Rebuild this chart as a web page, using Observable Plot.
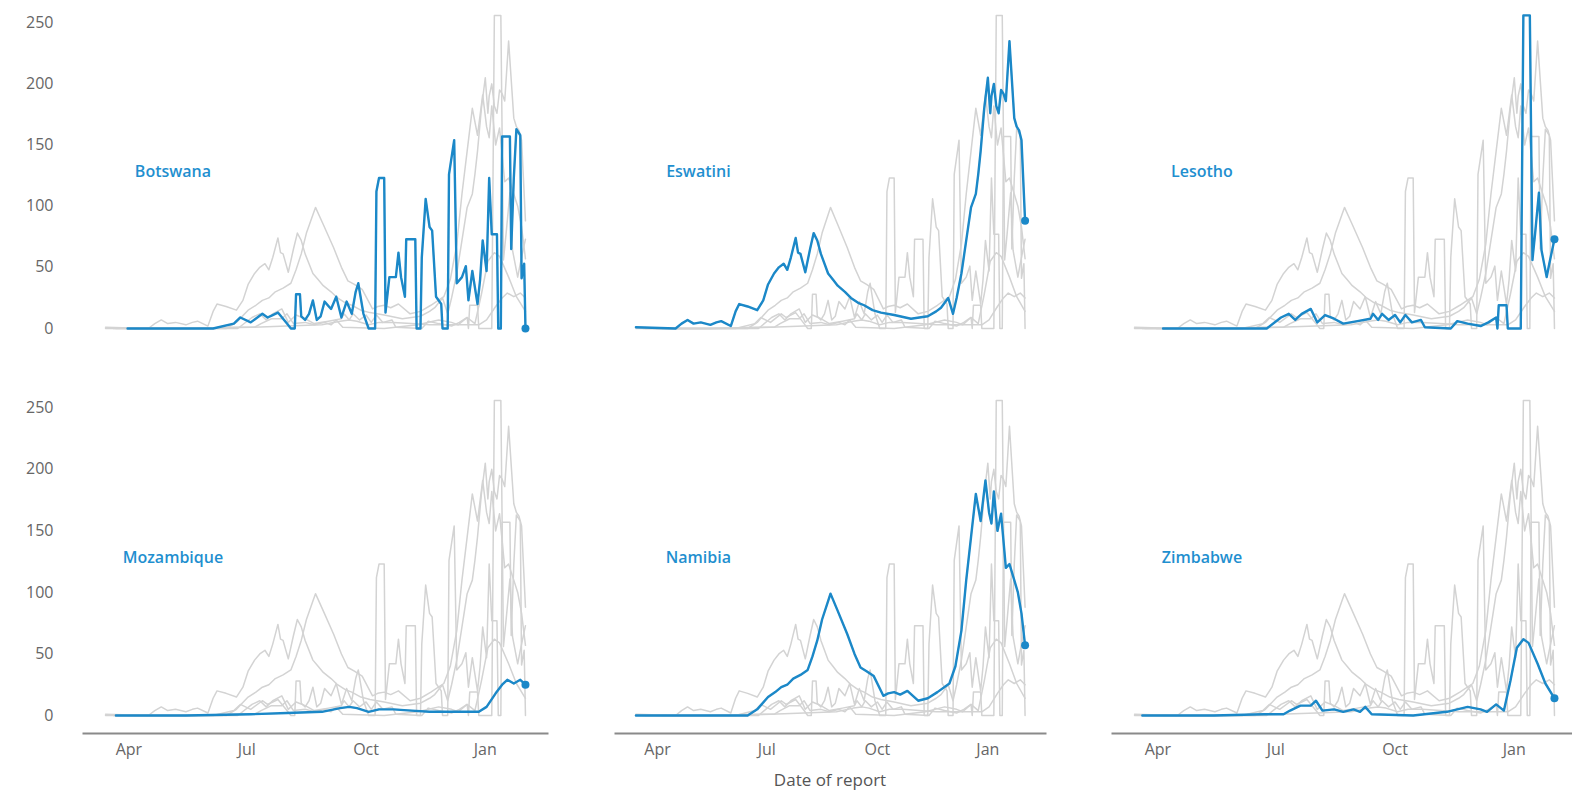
<!DOCTYPE html>
<html><head><meta charset="utf-8">
<script src="https://cdn.jsdelivr.net/npm/d3@7"></script>
<script src="https://cdn.jsdelivr.net/npm/@observablehq/plot@0.6"></script>
<style>
html,body{margin:0;padding:0;background:#fff;overflow:hidden;}
#chart{position:relative;width:1572px;height:792px;overflow:hidden;font-family:"Open Sans","Segoe UI",sans-serif;}
.panel{position:absolute;}
#xtitle{position:absolute;left:730px;width:200px;top:768px;text-align:center;font-size:17px;color:#555;font-family:"Open Sans","Segoe UI",sans-serif;}
</style></head><body>
<div id="chart"><div id="xtitle"></div></div>
<script>
const countries = ["Botswana","Eswatini","Lesotho","Mozambique","Namibia","Zimbabwe"];
const botswana = [["2020-03-31",0],["2020-06-05",0],["2020-06-21",4],["2020-06-26",9],["2020-07-04",5],["2020-07-13",12],["2020-07-17",9],["2020-07-21",11],["2020-07-25",13],["2020-08-01",4],["2020-08-04",0],["2020-08-07",0],["2020-08-08",28],["2020-08-11",28],["2020-08-12",10],["2020-08-15",7],["2020-08-18",12],["2020-08-21",23],["2020-08-24",7],["2020-08-27",10],["2020-08-30",22],["2020-09-04",16],["2020-09-08",26],["2020-09-12",9],["2020-09-16",22],["2020-09-20",12],["2020-09-23",30],["2020-09-25",37],["2020-09-29",12],["2020-10-03",0],["2020-10-08",0],["2020-10-09",112],["2020-10-11",123],["2020-10-15",123],["2020-10-16",13],["2020-10-19",42],["2020-10-24",42],["2020-10-26",62],["2020-10-28",42],["2020-10-31",26],["2020-11-01",73],["2020-11-08",73],["2020-11-09",0],["2020-11-12",0],["2020-11-13",58],["2020-11-16",106],["2020-11-19",83],["2020-11-21",80],["2020-11-24",26],["2020-11-28",20],["2020-11-29",0],["2020-12-03",0],["2020-12-04",126],["2020-12-08",154],["2020-12-10",37],["2020-12-14",42],["2020-12-17",51],["2020-12-19",23],["2020-12-22",47],["2020-12-26",20],["2020-12-28",40],["2020-12-30",72],["2021-01-02",47],["2021-01-04",123],["2021-01-06",77],["2021-01-10",77],["2021-01-11",0],["2021-01-13",0],["2021-01-14",157],["2021-01-20",157],["2021-01-21",65],["2021-01-23",123],["2021-01-25",163],["2021-01-28",158],["2021-01-29",41],["2021-01-31",53],["2021-02-01",0]];
const eswatini = [["2020-03-14",1],["2020-04-16",0],["2020-04-21",4],["2020-04-26",7],["2020-05-01",4],["2020-05-07",5],["2020-05-15",3],["2020-05-20",5],["2020-05-24",6],["2020-06-01",2],["2020-06-05",14],["2020-06-08",20],["2020-06-15",18],["2020-06-23",15],["2020-06-28",23],["2020-07-02",36],["2020-07-07",45],["2020-07-11",50],["2020-07-15",53],["2020-07-18",48],["2020-07-21",58],["2020-07-25",74],["2020-07-27",62],["2020-07-29",61],["2020-08-02",46],["2020-08-06",65],["2020-08-09",78],["2020-08-12",72],["2020-08-15",61],["2020-08-21",45],["2020-08-25",40],["2020-08-29",35],["2020-09-04",30],["2020-09-09",25],["2020-09-15",21],["2020-09-20",19],["2020-09-27",15],["2020-10-04",13],["2020-10-15",11],["2020-10-29",8],["2020-11-12",10],["2020-11-19",14],["2020-11-23",17],["2020-11-29",25],["2020-12-03",12],["2020-12-06",25],["2020-12-10",45],["2020-12-14",72],["2020-12-18",99],["2020-12-22",110],["2020-12-24",126],["2020-12-26",145],["2020-12-29",180],["2021-01-01",205],["2021-01-03",176],["2021-01-04",190],["2021-01-06",200],["2021-01-08",182],["2021-01-10",176],["2021-01-12",195],["2021-01-14",192],["2021-01-16",186],["2021-01-19",235],["2021-01-23",172],["2021-01-25",165],["2021-01-27",162],["2021-01-29",154],["2021-02-01",88]];
const lesotho = [["2020-04-05",0],["2020-06-24",0],["2020-07-05",9],["2020-07-11",12],["2020-07-16",7],["2020-07-21",12],["2020-07-28",16],["2020-08-02",5],["2020-08-08",11],["2020-08-15",8],["2020-08-22",4],["2020-09-02",6],["2020-09-12",8],["2020-09-14",12],["2020-09-18",7],["2020-09-21",12],["2020-09-26",7],["2020-10-01",11],["2020-10-05",5],["2020-10-09",11],["2020-10-14",5],["2020-10-21",7],["2020-10-24",1],["2020-11-13",0],["2020-11-18",6],["2020-11-26",4],["2020-12-06",2],["2020-12-12",5],["2020-12-18",9],["2020-12-19",0],["2020-12-20",19],["2020-12-26",19],["2020-12-27",0],["2021-01-06",0],["2021-01-08",256],["2021-01-13",256],["2021-01-15",56],["2021-01-17",77],["2021-01-20",111],["2021-01-22",64],["2021-01-26",42],["2021-01-28",53],["2021-02-01",73]];
const mozambique = [["2020-03-22",0],["2020-05-15",0],["2020-07-04",1],["2020-08-01",2],["2020-08-28",3],["2020-09-11",6],["2020-09-18",7],["2020-09-24",6],["2020-10-03",3],["2020-10-11",5],["2020-10-22",5],["2020-11-05",4],["2020-11-19",3],["2020-12-02",3],["2020-12-16",3],["2020-12-27",3],["2021-01-02",7],["2021-01-09",18],["2021-01-14",25],["2021-01-18",29],["2021-01-23",26],["2021-01-28",29],["2021-02-01",25]];
const namibia = [["2020-03-14",0],["2020-06-15",0],["2020-06-23",5],["2020-07-02",15],["2020-07-08",19],["2020-07-13",23],["2020-07-18",25],["2020-07-23",30],["2020-07-29",33],["2020-08-04",37],["2020-08-08",48],["2020-08-12",61],["2020-08-16",78],["2020-08-21",93],["2020-08-23",99],["2020-08-29",85],["2020-09-06",66],["2020-09-12",50],["2020-09-17",39],["2020-09-22",36],["2020-09-28",32],["2020-10-06",16],["2020-10-10",18],["2020-10-15",19],["2020-10-20",17],["2020-10-26",20],["2020-11-04",12],["2020-11-12",14],["2020-11-20",19],["2020-11-30",26],["2020-12-05",40],["2020-12-10",69],["2020-12-14",110],["2020-12-18",145],["2020-12-22",180],["2020-12-26",158],["2020-12-30",191],["2021-01-02",165],["2021-01-04",156],["2021-01-06",182],["2021-01-09",150],["2021-01-12",164],["2021-01-16",120],["2021-01-19",123],["2021-01-23",110],["2021-01-26",100],["2021-01-29",83],["2021-02-01",57]];
const zimbabwe = [["2020-03-20",0],["2020-05-14",0],["2020-06-22",1],["2020-07-07",1],["2020-07-12",4],["2020-07-20",8],["2020-07-28",8],["2020-08-01",12],["2020-08-06",4],["2020-08-15",5],["2020-08-22",3],["2020-08-30",5],["2020-09-04",3],["2020-09-08",7],["2020-09-13",1],["2020-10-15",0],["2020-11-10",3],["2020-11-26",7],["2020-12-06",5],["2020-12-11",3],["2020-12-18",9],["2020-12-24",4],["2020-12-29",28],["2021-01-03",55],["2021-01-08",62],["2021-01-12",59],["2021-01-19",42],["2021-01-25",26],["2021-02-01",14]];
const yTicks = [0,50,100,150,200,250];
const xTicks = ["2020-04-01","2020-07-01","2020-10-01","2021-01-01"];
const xDomain = ["2020-02-26","2021-02-18"];
const yDomain = [0,260];
const xTitle = "Date of report";

const BLUE = "#1b88c8", LABEL = "#1f8fcf", GRAY = "#d3d3d3", AXIS = "#8a8a8a", TXT = "#666";
const series = {Botswana: botswana, Eswatini: eswatini, Lesotho: lesotho, Mozambique: mozambique, Namibia: namibia, Zimbabwe: zimbabwe};
const rows = countries.flatMap(c => series[c].map(([d, v]) => ({country: c, date: new Date(d), value: v})));
const labelDate = new Date("2020-05-05"), labelValue = 128;

const colL = [
  {left: 0, marginLeft: 83, plotW: 464, marginRight: 4},
  {left: 560, marginLeft: 55, plotW: 430, marginRight: 4},
  {left: 1080, marginLeft: 32, plotW: 464, marginRight: 0}
];
const rowL = [
  {top: 0, height: 360, marginTop: 10, marginBottom: 32, insetBottom: 0},
  {top: 380, height: 412, marginTop: 15, marginBottom: 59, insetBottom: 18}
];

const chart = document.getElementById("chart");
countries.forEach((c, i) => {
  const col = i % 3, row = Math.floor(i / 3);
  const C = colL[col], R = rowL[row];
  const mine = rows.filter(r => r.country === c);
  const last = mine[mine.length - 1];
  const marks = [
    Plot.line(rows, {x: "date", y: "value", z: "country", stroke: GRAY, strokeWidth: 1.5}),
    Plot.line(mine, {x: "date", y: "value", stroke: BLUE, strokeWidth: 2.4}),
    Plot.dot([last], {x: "date", y: "value", r: 4, fill: BLUE}),
    Plot.text([c], {x: () => labelDate, y: () => labelValue, text: d => d, fill: LABEL, fontSize: 16, fontWeight: 600, textAnchor: "middle"})
  ];
  if (col === 0) marks.push(Plot.axisY({ticks: yTicks, tickSize: 0, tickPadding: 30, fontSize: 16, fill: TXT, label: null}));
  if (row === 1) {
    marks.push(Plot.axisX({ticks: xTicks.map(d => new Date(d)), tickFormat: d3.utcFormat("%b"), tickSize: 0, tickPadding: 10, fontSize: 16, fill: TXT, label: null}));
    marks.push(Plot.frame({anchor: "bottom", stroke: AXIS, strokeWidth: 2}));
  }
  const svg = Plot.plot({
    width: C.marginLeft + C.plotW + C.marginRight,
    height: R.height,
    marginLeft: C.marginLeft, marginRight: C.marginRight,
    marginTop: R.marginTop, marginBottom: R.marginBottom,
    x: {type: "utc", domain: xDomain.map(d => new Date(d)), label: null, ...(row === 1 ? {} : {axis: null})},
    y: {domain: yDomain, insetBottom: R.insetBottom, label: null, ...(col === 0 ? {} : {axis: null})},
    style: {fontFamily: '"Open Sans","Segoe UI",sans-serif', color: TXT, background: "transparent", overflow: "visible"},
    marks
  });
  svg.classList.add("panel");
  svg.style.left = C.left + "px";
  svg.style.top = R.top + "px";
  chart.appendChild(svg);
});
document.getElementById("xtitle").textContent = xTitle;
</script>
</body></html>
